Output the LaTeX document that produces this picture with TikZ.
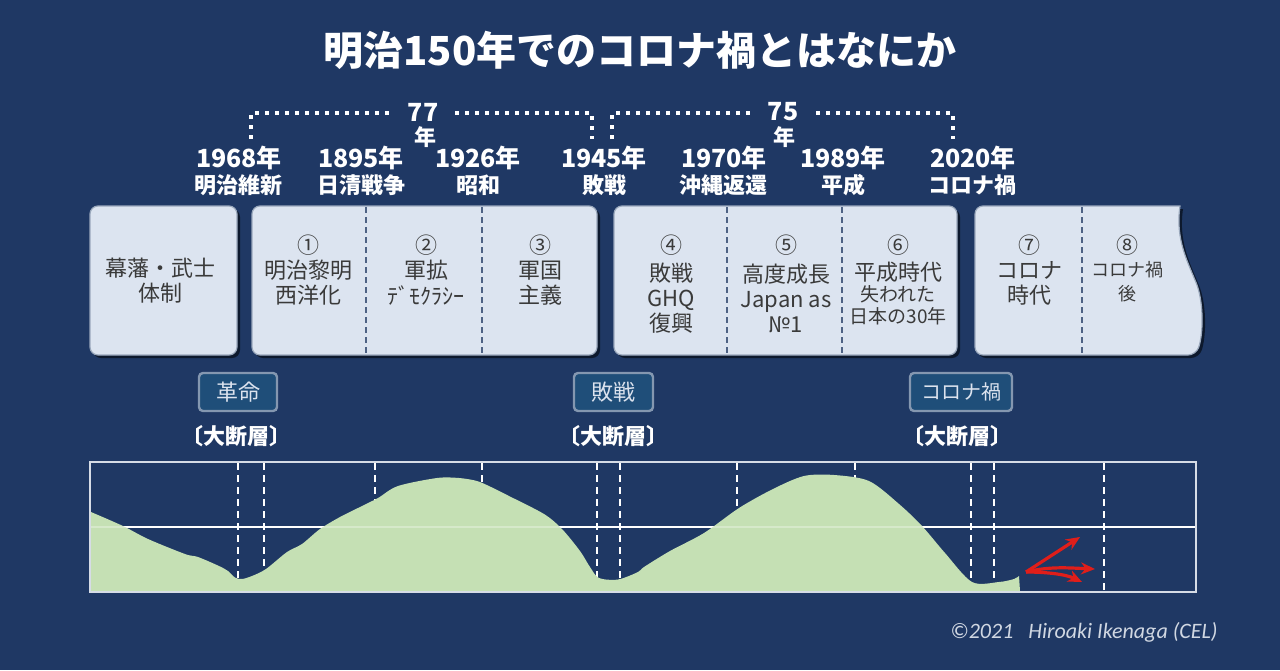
\documentclass[tikz,border=0pt]{standalone}
\usepackage{fontspec}
\setmainfont{Noto Sans CJK JP}
\newfontfamily\copyfont{Carlito}
\usetikzlibrary{shadows,fit,arrows.meta}
\definecolor{bgnavy}{HTML}{1F3864}
\definecolor{boxfill}{HTML}{DCE4F0}
\definecolor{boxedge}{HTML}{9AA8BC}
\definecolor{boxtext}{HTML}{3A3A3A}
\definecolor{divcol}{HTML}{4E6284}
\definecolor{smallfill}{HTML}{1F4E79}
\definecolor{smalledge}{HTML}{8497B0}
\definecolor{smalltext}{HTML}{DCE3EE}
\definecolor{hillgreen}{HTML}{C5E0B4}
\definecolor{chartedge}{HTML}{D6DCE6}
\definecolor{arrowred}{HTML}{E01E1A}
\definecolor{copygray}{HTML}{D0D7E2}
\begin{document}
\begin{tikzpicture}[x=0.5pt,y=-0.5pt,
  bigbox/.style={draw=boxedge,line width=0.6pt,fill=boxfill,rounded corners=4pt,inner sep=0pt,
     drop shadow={shadow xshift=1.5pt,shadow yshift=-1.5pt,opacity=0.55,fill=black}},
  divdash/.style={draw=divcol,line width=0.7pt,dash pattern=on 3pt off 2pt},
  colnum/.style={text=boxtext,font=\fontsize{11}{13}\selectfont,inner sep=0pt},
  coltxt/.style={text=boxtext,font=\fontsize{11}{12.5}\selectfont,align=center,inner sep=0pt},
  yearlbl/.style={text=white,font=\bfseries\fontsize{12.5}{14}\selectfont,inner sep=0pt},
  namelbl/.style={text=white,font=\bfseries\fontsize{11}{13}\selectfont,inner sep=0pt},
  dotline/.style={draw=white,line width=2pt,dash pattern=on 2pt off 3pt},
  smallbox/.style={draw=smalledge,line width=1.2pt,fill=smallfill,rounded corners=2pt,inner sep=0pt},
  smalltxt/.style={text=smalltext,font=\fontsize{11}{13}\selectfont,inner sep=0pt},
  gaplbl/.style={text=white,font=\bfseries\fontsize{11}{13}\selectfont,inner sep=0pt},
  chartdash/.style={draw=white,line width=0.7pt,dash pattern=on 3.5pt off 2.5pt},
  redarrow/.style={draw=arrowred,line width=1.6pt,-{Stealth[length=7pt,width=6pt]}}
]
\fill[bgnavy] (0,0) rectangle (1280,670);
\useasboundingbox (0,0) rectangle (1280,670);

% title
\node[text=white,font=\bfseries\fontsize{20}{24}\selectfont,inner sep=0pt] (title) at (640,50) {明治150年でのコロナ禍とはなにか};

% dotted brackets
\coordinate (b1a) at (251,139); \coordinate (b1b) at (251,113);
\coordinate (b1c) at (390,113); \coordinate (b1d) at (455,113);
\coordinate (b1e) at (592,113); \coordinate (b1f) at (592,139);
\draw[dotline] (b1a) -- (b1b) -- (b1c);
\draw[dotline] (b1d) -- (b1e) -- (b1f);
\node[yearlbl] (y77) at (423,112) {77};
\node[namelbl] (n77) at (425,137) {年};
\coordinate (b2a) at (612,139); \coordinate (b2b) at (612,113);
\coordinate (b2c) at (752,113); \coordinate (b2d) at (816,113);
\coordinate (b2e) at (953,113); \coordinate (b2f) at (953,139);
\draw[dotline] (b2a) -- (b2b) -- (b2c);
\draw[dotline] (b2d) -- (b2e) -- (b2f);
\node[yearlbl] (y75) at (783,112) {75};
\node[namelbl] (n75) at (784,137) {年};

% years and events
\node[yearlbl] (yr1) at (239,158) {1968年};
\node[namelbl] (ev1) at (238,185) {明治維新};
\node[yearlbl] (yr2) at (361,158) {1895年};
\node[namelbl] (ev2) at (361,185) {日清戦争};
\node[yearlbl] (yr3) at (478,158) {1926年};
\node[namelbl] (ev3) at (478,185) {昭和};
\node[yearlbl] (yr4) at (604,158) {1945年};
\node[namelbl] (ev4) at (604,185) {敗戦};
\node[yearlbl] (yr5) at (724,158) {1970年};
\node[namelbl] (ev5) at (723,185) {沖縄返還};
\node[yearlbl] (yr6) at (843,158) {1989年};
\node[namelbl] (ev6) at (843,185) {平成};
\node[yearlbl] (yr7) at (973,158) {2020年};
\node[namelbl] (ev7) at (972,185) {コロナ禍};

% big boxes
\coordinate (pa1) at (90,206); \coordinate (pa2) at (237,355);
\node[bigbox,fit=(pa1)(pa2)] (boxA) {};
\coordinate (pb1) at (252,206); \coordinate (pb2) at (597,355);
\node[bigbox,fit=(pb1)(pb2)] (boxB) {};
\coordinate (pc1) at (614,206); \coordinate (pc2) at (957,355);
\node[bigbox,fit=(pc1)(pc2)] (boxC) {};
\path[draw=boxedge,line width=0.6pt,fill=boxfill,drop shadow={shadow xshift=1.5pt,shadow yshift=-1.5pt,opacity=0.55,fill=black}]
  (1180,206) [rounded corners=4pt] -- (975,206) -- (975,355) -- (1196,355) [sharp corners]
  .. controls (1203,335) and (1204,305) .. (1197,285)
  .. controls (1188,262) and (1175,240) .. (1180,206) -- cycle;

% dividers
\draw[divdash] (366,207) coordinate (dB1t) -- (366,354) coordinate (dB1b);
\draw[divdash] (482,207) coordinate (dB2t) -- (482,354) coordinate (dB2b);
\draw[divdash] (727,207) coordinate (dC1t) -- (727,354) coordinate (dC1b);
\draw[divdash] (842,207) coordinate (dC2t) -- (842,354) coordinate (dC2b);
\draw[divdash] (1082,207) coordinate (dD1t) -- (1082,354) coordinate (dD1b);

% box texts
\node[coltxt] (tA) at (160,281) {幕藩・武士\\体制};

\node[colnum] (k1) at (308,245) {①};
\node[coltxt] (t1) at (308,283) {明治黎明\\西洋化};
\node[colnum] (k2) at (426,245) {②};
\node[coltxt] (t2a) at (426,270) {軍拡};
\node[coltxt] (t2b) at (426,296) {ﾃﾞﾓｸﾗｼｰ};
\node[colnum] (k3) at (540,245) {③};
\node[coltxt] (t3) at (540,283) {軍国\\主義};

\node[colnum] (k4) at (671,245) {④};
\node[coltxt] (t4) at (671,298) {敗戦\\GHQ\\復興};
\node[colnum] (k5) at (786,245) {⑤};
\node[coltxt] (t5) at (786,298) {高度成長\\Japan as\\№1};
\node[colnum] (k6) at (898,245) {⑥};
\node[coltxt] (t6a) at (898,272) {平成時代};
\node[coltxt,font=\fontsize{9.5}{11}\selectfont] (t6b) at (898,305) {失われた\\日本の30年};

\node[colnum] (k7) at (1029,245) {⑦};
\node[coltxt] (t7) at (1029,283) {コロナ\\時代};
\node[colnum] (k8) at (1127,245) {⑧};
\node[coltxt,font=\fontsize{9}{12}\selectfont] (t8) at (1127,282) {コロナ禍\\後};

% small boxes
\coordinate (s11) at (199,373); \coordinate (s12) at (277,411);
\node[smallbox,fit=(s11)(s12)] (sb1) {};
\node[smalltxt] (st1) at (sb1.center) {革命};
\coordinate (s21) at (574,373); \coordinate (s22) at (653,411);
\node[smallbox,fit=(s21)(s22)] (sb2) {};
\node[smalltxt] (st2) at (sb2.center) {敗戦};
\coordinate (s31) at (910,373); \coordinate (s32) at (1012,411);
\node[smallbox,fit=(s31)(s32)] (sb3) {};
\node[smalltxt,font=\fontsize{10}{12}\selectfont] (st3) at (sb3.center) {コロナ禍};

\node[gaplbl] (g1) at (236,436) {〔大断層〕};
\node[gaplbl] (g2) at (613,436) {〔大断層〕};
\node[gaplbl] (g3) at (957,436) {〔大断層〕};

% chart
\foreach \xx in {238,264,375,482,597,620,737,855,971,994,1104}
  \draw[chartdash] (\xx,463) -- (\xx,591);
\draw[white,line width=0.8pt] (91,527) coordinate (ml) -- (1195,527) coordinate (mr);
\fill[hillgreen] (91,591) -- plot[smooth,tension=0.5] coordinates {
 (91,512) (123,526) (148,539) (185,554) (198,557) (219,566) (228,571) (235,577.5) (242,579) (252,576)
 (266,569) (287,552) (302,544) (320,529) (340,517) (360,507) (378,498) (398,486) (437,478) (459,478)
 (477,481) (491,487) (509,496) (544,514) (562,529) (580,551) (590,567) (599,578) (618,579.5) (638,572)
 (644,567) (670,551) (704,533) (739,508) (773,489) (804,476) (834,475) (869,481) (899,504) (922,526)
 (945,553) (972,582) (999,582) (1014,579) (1019,576)} -- (1020,591) -- cycle;
\draw[white,opacity=0.3,line width=0.8pt] (ml) -- (mr);
\coordinate (ch1) at (90,462); \coordinate (ch2) at (1196,592);
\node[draw=chartedge,line width=1pt,inner sep=0pt,fit=(ch1)(ch2)] (chart) {};

% red arrows
\coordinate (ra) at (1026,572);
\coordinate (rt1) at (1080,537);
\coordinate (rt2) at (1095,569);
\coordinate (rt3) at (1082,582);
\draw[redarrow] (ra) -- (rt1);
\draw[redarrow] (ra) .. controls (1050,566) and (1070,568) .. (rt2);
\draw[redarrow] (ra) .. controls (1045,572) and (1065,574) .. (rt3);

% copyright
\node[text=copygray,font=\copyfont\itshape\fontsize{11}{13}\selectfont,inner sep=0pt,anchor=east] (copy) at (1218,632) {©2021\ \ \ Hiroaki Ikenaga (CEL)};
\end{tikzpicture}
\end{document}
